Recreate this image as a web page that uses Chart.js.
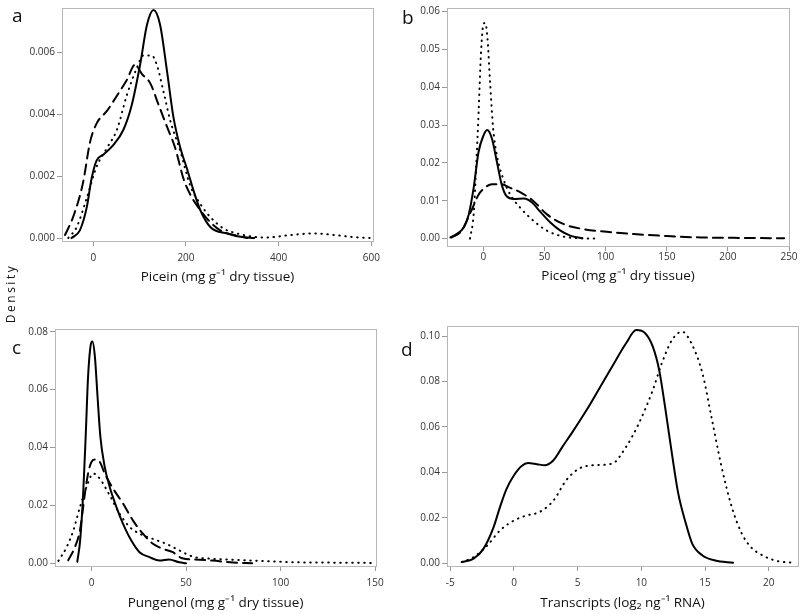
<!DOCTYPE html>
<html>
<head>
<meta charset="utf-8">
<script src="https://cdn.jsdelivr.net/npm/chart.js@4/dist/chart.umd.min.js"></script>
<style>
  body { margin: 0; background: #fff; font-family: "Open Sans", sans-serif; }
  #wrap { position: relative; width: 800px; height: 614px; }
  canvas { position: absolute; }
  .letter { position: absolute; font-size: 19px; color: #111; line-height: 1; }
  #ylab { position: absolute; left: -40px; top: 285px; width: 100px; text-align: center;
          transform: rotate(-90deg); font-size: 12px; letter-spacing: 2.5px; color: #111; }
</style>
</head>
<body>
<div id="wrap">
  <canvas id="cA" width="400" height="300" style="left:0;top:0"></canvas>
  <canvas id="cB" width="400" height="300" style="left:400px;top:0"></canvas>
  <canvas id="cC" width="400" height="314" style="left:0;top:300px"></canvas>
  <canvas id="cD" width="400" height="314" style="left:400px;top:300px"></canvas>
  <div class="letter" style="left:12px;top:6px">a</div>
  <div class="letter" style="left:402px;top:8px">b</div>
  <div class="letter" style="left:12px;top:338px">c</div>
  <div class="letter" style="left:401px;top:340px">d</div>
  <div id="ylab">Density</div>
</div>
<script>
// panel a - Picein
const piceinTicksX = [0, 200, 400, 600];
const piceinTicksY = [0, 0.002, 0.004, 0.006];
const piceinSolid = [[-47,0],[-29,0.00025],[-14,0.001],[-4,0.0019],[7,0.0025],[22,0.0027],[43,0.003],[65,0.0035],[83,0.0043],[101,0.0056],[116,0.0069],[130,0.00737],[144,0.0069],[159,0.0054],[173,0.0039],[188,0.0029],[202,0.00225],[217,0.0015],[231,0.0009],[253,0.00035],[289,0.00015],[318,0.00004],[347,0]];
const piceinDashed = [[-61,0.0001],[-43,0.0007],[-22,0.0018],[-7,0.0031],[7,0.0037],[29,0.0041],[51,0.0046],[72,0.0051],[90,0.0056],[105,0.0053],[123,0.005],[141,0.0043],[159,0.0036],[177,0.0029],[195,0.0019],[213,0.0013],[231,0.0009],[249,0.00057],[274,0.00025],[303,0.0001],[332,0]];
const piceinDotted = [[-54,0],[-36,0.00035],[-14,0.0013],[7,0.0023],[29,0.0029],[51,0.0035],[72,0.0046],[94,0.0055],[108,0.0059],[126,0.0059],[137,0.0056],[152,0.0047],[166,0.0038],[188,0.0028],[209,0.0017],[231,0.0011],[253,0.00067],[282,0.0003],[310,0.00015],[347,0.00004],[375,0.00002],[426,0.0001],[477,0.00015],[520,0.0001],[563,0.00003],[603,0]];

// panel b - Piceol
const piceolTicksX = [0, 50, 100, 150, 200, 250];
const piceolTicksY = [0, 0.01, 0.02, 0.03, 0.04, 0.05, 0.06];
const piceolSolid = [[-27,0.0003],[-22,0.0012],[-16,0.003],[-12,0.0064],[-8,0.0134],[-4,0.0229],[0,0.0272],[3,0.0287],[7,0.0264],[11,0.0203],[15,0.0142],[19,0.0112],[25,0.0105],[33,0.0106],[40,0.0095],[46,0.0073],[55,0.0042],[63,0.0021],[71,0.0008],[81,0.0001]];
const piceolDashed = [[-26,0.0003],[-18,0.002],[-10,0.0073],[-4,0.0116],[1,0.0134],[7,0.0144],[14,0.0144],[22,0.0134],[30,0.0123],[41,0.0099],[52,0.0064],[66,0.0038],[82,0.0025],[101,0.0018],[123,0.0012],[150,0.0007],[178,0.0003],[205,0.0002],[246,0.0001]];
const piceolDotted = [[-11,0],[-8,0.0064],[-6,0.0186],[-4,0.033],[-2,0.049],[0,0.0567],[1.5,0.057],[3.3,0.053],[5.5,0.041],[8,0.029],[11.5,0.0212],[16,0.016],[22,0.0116],[30,0.0082],[41,0.0047],[52,0.0021],[66,0.0005],[79,0.0001],[94,0]];

// panel c - Pungenol
const pungenolTicksX = [0, 50, 100, 150];
const pungenolTicksY = [0, 0.02, 0.04, 0.06, 0.08];
const pungenolSolid = [[-7.5,0.0005],[-6,0.0079],[-4.4,0.024],[-3,0.045],[-1.8,0.0645],[-0.5,0.075],[0.5,0.0766],[1.8,0.0714],[3.2,0.0576],[4.7,0.0437],[7,0.0333],[9.6,0.0264],[13.2,0.0194],[16.7,0.0136],[21,0.0079],[25.4,0.0038],[30.7,0.0021],[36,0.0009],[41,0.0013],[46.5,0.0003],[50,0]];
const pungenolDashed = [[-12.3,0.001],[-8.8,0.0055],[-6.1,0.0113],[-3.5,0.024],[-1.8,0.031],[0,0.035],[2,0.0358],[4.4,0.035],[7,0.031],[11.4,0.0258],[16.7,0.0206],[21.9,0.0148],[27.2,0.0102],[32.5,0.0067],[37.7,0.005],[43,0.0038],[48,0.0017],[57,0.0012],[64,0.0009],[75,0.0002],[85,0]];
const pungenolDotted = [[-17.5,0.0008],[-13.2,0.0055],[-9.6,0.0113],[-6.1,0.0194],[-2.6,0.0264],[0.9,0.031],[4.4,0.0292],[9.6,0.0235],[14.9,0.0171],[20.2,0.0125],[25.4,0.0102],[32.5,0.0084],[39.5,0.0067],[46.5,0.0044],[53.5,0.0023],[64,0.0015],[75,0.0012],[92,0.0007],[110,0.0003],[127,0.0002],[148,0.0001]];

// panel d - Transcripts
const transcriptTicksX = [-5, 0, 5, 10, 15, 20];
const transcriptTicksY = [0, 0.02, 0.04, 0.06, 0.08, 0.10];
const transcriptSolid = [[-4.1,0.0005],[-3.2,0.0019],[-2.4,0.0063],[-1.6,0.0159],[-1.1,0.0247],[-0.6,0.0325],[0,0.0387],[0.6,0.0428],[1.1,0.0441],[1.8,0.0436],[2.4,0.0431],[3.1,0.0453],[3.8,0.0512],[4.6,0.0578],[5.7,0.0674],[6.7,0.0769],[7.7,0.0865],[8.8,0.0968],[9.6,0.1026],[10.3,0.1012],[10.9,0.0953],[11.4,0.085],[11.9,0.0674],[12.4,0.0482],[12.9,0.0306],[13.5,0.0174],[14,0.0085],[14.8,0.0034],[15.8,0.0012],[17.2,0.0002]];
const transcriptDotted = [[-4.1,0.0005],[-3.2,0.0026],[-2.1,0.0078],[-1.1,0.0144],[0,0.0188],[1,0.021],[2,0.0225],[3.1,0.0276],[4.1,0.0365],[5.1,0.0416],[6.2,0.0431],[7.7,0.0438],[8.8,0.0512],[9.8,0.0615],[10.9,0.0762],[11.6,0.0879],[12.4,0.0982],[13.2,0.1019],[14,0.096],[14.8,0.0835],[15.5,0.0644],[16.3,0.0424],[17.1,0.0247],[17.9,0.0129],[18.6,0.0071],[19.7,0.0029],[20.7,0.0009],[22,0.0002]];

const FONT = '"Open Sans", sans-serif';

const styles = {
  solid:  { borderDash: [] },
  dashed: { borderDash: [10, 6] },
  dotted: { borderDash: [0.5, 5.5] }
};

// grey frame around the plot area
const frame = {
  id: 'frame',
  beforeDatasetsDraw(chart) {
    const a = chart.chartArea, c = chart.ctx;
    c.save();
    c.strokeStyle = '#b8b8b8';
    c.lineWidth = 1;
    c.strokeRect(Math.round(a.left) + 0.5, Math.round(a.top) + 0.5,
                 Math.round(a.right - a.left), Math.round(a.bottom - a.top));
    c.restore();
  }
};

function panel(id, series, ticksX, ticksY, xmin, xmax, ymin, ymax, dec, title, lay) {
  const datasets = series.map(s => Object.assign({
    data: s.pts.map(p => ({ x: p[0], y: p[1] })),
    borderColor: '#000',
    borderWidth: 2,
    borderCapStyle: 'round',
    cubicInterpolationMode: 'monotone',
    pointRadius: 0,
    fill: false
  }, styles[s.style]));

  new Chart(document.getElementById(id), {
    type: 'line',
    data: { datasets },
    plugins: [frame],
    options: {
      responsive: false,
      animation: false,
      layout: { padding: { left: 0, top: lay.top, right: lay.right, bottom: lay.bottom } },
      plugins: { legend: { display: false }, tooltip: { enabled: false } },
      scales: {
        x: {
          type: 'linear', min: xmin, max: xmax,
          afterBuildTicks: sc => { sc.ticks = ticksX.map(v => ({ value: v })); },
          afterFit: sc => { sc.height = lay.xh; },
          border: { display: false },
          grid: { drawOnChartArea: false, drawTicks: true, tickLength: 5, color: '#999' },
          ticks: { autoSkip: false, maxRotation: 0, padding: lay.xpad, color: '#333',
                   font: { family: FONT, size: 10 }, callback: v => String(v) },
          title: { display: true, text: title, color: '#111', padding: 0,
                   font: { family: FONT, size: 13.5 } }
        },
        y: {
          type: 'linear', min: ymin, max: ymax,
          afterBuildTicks: sc => { sc.ticks = ticksY.map(v => ({ value: v })); },
          afterFit: sc => { sc.width = lay.yw; },
          border: { display: false },
          grid: { drawOnChartArea: false, drawTicks: true, tickLength: 5, color: '#999' },
          ticks: { autoSkip: false, padding: 2, color: '#333',
                   font: { family: FONT, size: 10 }, callback: v => v.toFixed(dec) }
        }
      }
    }
  });
}

panel('cA', [
    { pts: piceinSolid, style: 'solid' },
    { pts: piceinDashed, style: 'dashed' },
    { pts: piceinDotted, style: 'dotted' }],
  piceinTicksX, piceinTicksY, -67.5, 603.5, -0.0000944, 0.007435, 3,
  'Picein (mg g\u207B\u00B9 dry tissue)',
  { top: 2, right: 27, bottom: 15, xh: 44, yw: 62, xpad: 6 });

panel('cB', [
    { pts: piceolSolid, style: 'solid' },
    { pts: piceolDashed, style: 'dashed' },
    { pts: piceolDotted, style: 'dotted' }],
  piceolTicksX, piceolTicksY, -29.8, 250, -0.00195, 0.06094, 2,
  'Piceol (mg g\u207B\u00B9 dry tissue)',
  { top: 4, right: 11, bottom: 16, xh: 38, yw: 47, xpad: 0 });

panel('cC', [
    { pts: pungenolSolid, style: 'solid' },
    { pts: pungenolDashed, style: 'dashed' },
    { pts: pungenolDotted, style: 'dotted' }],
  pungenolTicksX, pungenolTicksY, -19.3, 150.5, -0.00097, 0.08094, 2,
  'Pungenol (mg g\u207B\u00B9 dry tissue)',
  { top: 29, right: 24, bottom: 3, xh: 45, yw: 55, xpad: 6 });

panel('cD', [
    { pts: transcriptSolid, style: 'solid' },
    { pts: transcriptDotted, style: 'dotted' }],
  transcriptTicksX, transcriptTicksY, -5.26, 22.3, -0.00124, 0.10441, 2,
  'Transcripts (log\u2082 ng\u207B\u00B9 RNA)',
  { top: 26, right: 2, bottom: 3, xh: 45, yw: 47, xpad: 6 });
</script>
</body>
</html>
